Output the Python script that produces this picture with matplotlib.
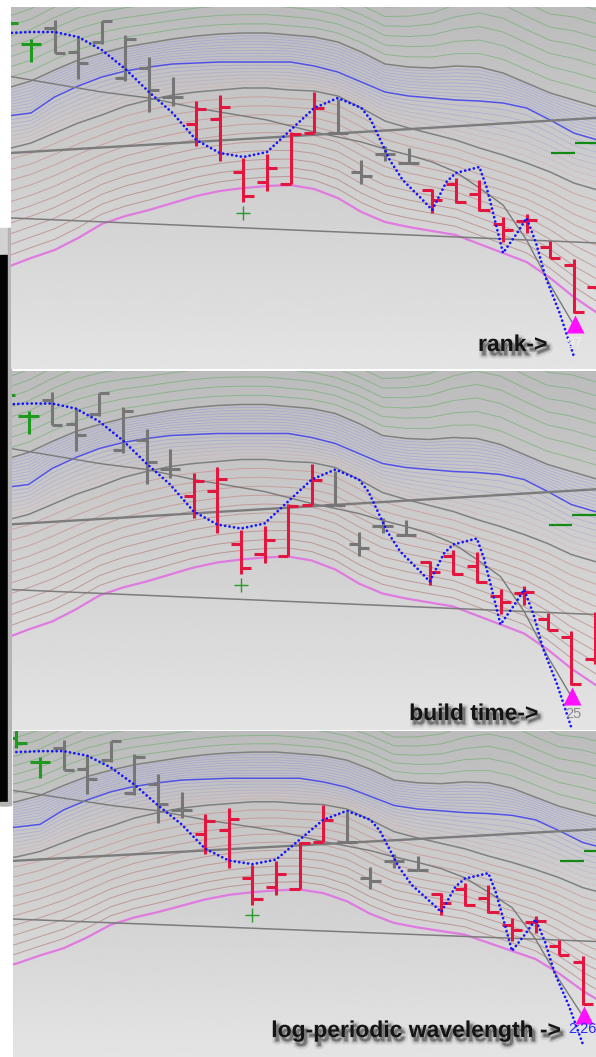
import numpy as np
import matplotlib
matplotlib.use('Agg')
import matplotlib.pyplot as plt
import matplotlib.patheffects as pe
from matplotlib.patches import Rectangle

# ---- price bars (bar index, open, high, low, close); price axis runs downwards like the screen
barIdx   = list(range(-1, 25))
barOpen  = [18, 44, 28, 52, 42, 78, 68, 97, 124, 119, 172, 182, 184, 133, 133, 172, 154, 163, 190, 184, 194, 224, 221, 247, 265, 287]
barHigh  = [8, 39, 20, 36, 21, 35, 57, 77, 101, 95, 158, 154, 132, 92, 99, 160, 146, 148, 189, 178, 180, 217, 214, 241, 259, 240]
barLow   = [29, 62, 53, 79, 44, 81, 112, 106, 146, 161, 202, 191, 184, 133, 133, 184, 161, 164, 213, 203, 211, 242, 233, 258, 313, 292]
barClose = [23, 44, 53, 63, 21, 39, 90, 97, 109, 107, 196, 168, 134, 108, 133, 176, 154, 163, 200, 202, 210, 230, 220, 258, 312, 250]
barKind  = ['g', 'g', 'k', 'k', 'k', 'k', 'k', 'k', 'r', 'r', 'r', 'r', 'r', 'r', 'k', 'k', 'k', 'k',
            'r', 'r', 'r', 'r', 'r', 'r', 'r', 'r']

# ---- envelope lines read at each bar (index -2 .. 25)
envIdx     = list(range(-2, 26))
envCenter  = [119, 116, 113, 97, 86, 77, 71, 67, 64, 63, 62, 62, 62, 62, 66, 72, 82, 92, 96, 98, 100, 101, 103, 108, 120, 133, 140, 145]
envUpper   = [92, 88, 81, 70, 60, 53, 47, 43, 39, 36, 34, 33, 33, 35, 37, 42, 52, 64, 67, 68, 66, 67, 73, 83, 93, 100, 107, 112]
envLower   = [152, 149, 143, 133, 123, 115, 106, 100, 95, 92, 90, 88, 88, 90, 91, 96, 108, 121, 128, 134, 140, 148, 155, 163, 172, 183, 190, 196]
envMagenta = [273, 267, 258, 250, 238, 224, 216, 210, 203, 196, 191, 188, 186, 185, 189, 198, 212, 222, 227, 231, 235, 244, 253, 262, 278, 297, 313, 325]

# slow average, ends at the signal bar
slowIdx  = list(range(-2, 24))
slowLine = [73, 76, 80, 84, 88, 92, 95, 98, 103, 108, 112, 116, 120, 126, 132, 137, 142, 149, 155, 162, 172, 188, 205, 240, 285, 325]

# straight trend lines (end points)
trendX = [-2, 25]
trendA = [154.6, 116.4]
trendC = [216.8, 244.0]

# dotted projection
projX = [-1, 0, 1, 2, 3, 4, 5, 6, 7, 8, 9, 10, 11, 12, 13, 14, 14.4, 14.8, 15.2, 15.75, 16.6, 17, 17.6, 18,
         19, 19.3, 19.55, 20, 20.6, 21, 21.4, 21.8, 22.4, 23]
projY = [33, 32, 32, 37, 50, 69, 92, 113, 140, 153, 157, 152, 130, 108, 98, 108, 120, 140, 160, 180, 200, 210, 182, 173,
         167, 187, 210, 253, 233, 218, 243, 277, 313, 356]

# markers
triX, triY = [23.05], [324]
plusX, plusY = [9], [213]
levelY = [153, 143]
levelStart = [22.05, 23.05]
levelEnd = [23.05, 24.05]

# panels: left px, top px, bottom px, px of bar 0, px of level 44, vertical scale
panelBox = [(11, 7, 369, 31.0, 44.0, 1.0),
            (12, 371, 730, 28.5, 415.5, 1.0),
            (13, 731, 1057, 40.0, 762.0, 0.904)]
panelLabel = ['rank->', 'build time->', 'log-periodic wavelength ->']
labelRight = [547, 538, 560]
labelBase = [351, 720, 1037]
smallText = ['97', '25', '2:26']
smallColor = ['#f0f0f8', '#8c8c8c', '#2828ff']
smallPos = [(23.05, 343, 'center'), (23.07, 342.5, 'center'), (22.37, 339.4, 'left')]

W, H = 596, 1057
BARW = 23.6
kindColor = {'g': '#1f9a1f', 'k': '#767676', 'r': '#e3163f'}

fig = plt.figure(figsize=(W / 100, H / 100), dpi=100, facecolor='white')

# background: window pieces behind the screenshots
bg = fig.add_axes([0, 0, 1, 1])
bg.set_xlim(0, W)
bg.set_ylim(H, 0)
bg.axis('off')
bg.add_patch(Rectangle((0, 228), 11, 27, color='#d2d2d2'))
bg.add_patch(Rectangle((0, 255), 8, 550, color='#030303'))
bg.add_patch(Rectangle((8, 228), 3, 577, color='#b4b4b4'))
bg.add_patch(Rectangle((0, 802), 11, 3, color='#b4b4b4'))
bg.set_zorder(0)

eX = np.array(envIdx, dtype=float)
cen = np.array(envCenter, dtype=float)
up = np.array(envUpper, dtype=float)
lo = np.array(envLower, dtype=float)
mg = np.array(envMagenta, dtype=float)
step = (lo - up) / 6.0

grad = np.linspace(0.895, 0.735, 256).reshape(-1, 1)

for p, (L, T, B, x0, yref, ys) in enumerate(panelBox):
    ax = fig.add_axes([L / W, (H - B) / H, (W - L) / W, (B - T) / H])
    ax.set_zorder(1)
    ax.imshow(grad, extent=[0, 1, 0, 1], transform=ax.transAxes, cmap='gray', vmin=0, vmax=1,
              aspect='auto', origin='lower', zorder=0, interpolation='bicubic')

    # green lines above the upper grey line
    for k in range(1, 12):
        ax.plot(eX, up - k * step, color='#4fa84f', lw=0.7, alpha=0.45, zorder=1)
    # dense blue lines between upper grey and centre
    for f in np.linspace(0, 1, 11)[1:-1]:
        ax.plot(eX, up + f * (cen - up), color='#6a6aff', lw=0.55, alpha=0.3, zorder=1)
    # lines from centre down to lower grey, blue fading to pink
    for j, f in enumerate(np.linspace(0, 1, 9)[1:-1]):
        col = (0.4 + 0.5 * j / 6, 0.4 + 0.15 * j / 6, 1.0 - 0.4 * j / 6)
        ax.plot(eX, cen + f * (lo - cen), color=col, lw=0.55, alpha=0.3, zorder=1)
    # red/brown lines between lower grey and magenta
    for k in range(1, 11):
        t = k / 11
        col = (0.82 - 0.2 * t, 0.5 - 0.15 * t, 0.48 - 0.15 * t)
        ax.plot(eX, lo + t * (mg - lo), color=col, lw=0.7, alpha=0.5, zorder=1)

    ax.plot(eX, cen, color='#3434f4', lw=1.1, alpha=0.8, zorder=1.5)
    ax.plot(eX, up, color='#808080', lw=1.1, zorder=1.6)
    ax.plot(eX, lo, color='#808080', lw=1.1, zorder=1.6)
    ax.plot(eX, mg, color='#e07ae0', lw=1.6, zorder=1.6)
    ax.plot(slowIdx, slowLine, color='#7a7a7a', lw=1.0, zorder=1.6)
    ax.plot(trendX, trendA, color='#7c7c7c', lw=1.7, zorder=1.7)
    ax.plot(trendX, trendC, color='#7c7c7c', lw=1.1, zorder=1.7)

    # OHLC bars
    for i, o, h, l, c, kd in zip(barIdx, barOpen, barHigh, barLow, barClose, barKind):
        col = kindColor[kd]
        ax.vlines(i, h, l, color=col, lw=2.2, zorder=3)
        ax.hlines(o, i - 0.43, i, color=col, lw=2.2, zorder=3)
        ax.hlines(c, i, i + 0.43, color=col, lw=2.2, zorder=3)

    ax.hlines(levelY, levelStart, levelEnd, color='#138a13', lw=1.6, zorder=3)
    ax.plot(projX, projY, color='#1414ff', lw=2.0, linestyle=(0, (0.01, 1.6)),
            dash_capstyle='round', zorder=4)
    ax.plot(triX, triY, marker='^', ms=13, color='#ff10ff', mec='none', ls='none', zorder=5)
    ax.plot(plusX, plusY, marker='+', ms=10, mew=1.0, color='#2a9a2a', ls='none', zorder=5)

    sx, sy, ha = smallPos[p]
    ax.text(sx, sy, smallText[p], color=smallColor[p], fontsize=10.5, ha=ha, va='center',
            family='Liberation Sans', zorder=6)

    ax.set_xlim((L - x0) / BARW, (W - x0) / BARW)
    ax.set_ylim(44 + (B - yref) / ys, 44 + (T - yref) / ys)
    ax.set_xticks([])
    ax.set_yticks([])
    for s in ax.spines.values():
        s.set_visible(False)

# labels with a soft drop shadow, on a top overlay
shadow = [pe.Stroke(linewidth=5, foreground='#555555', alpha=0.12, offset=(2, -3)),
          pe.Stroke(linewidth=2, foreground='#444444', alpha=0.3, offset=(2, -3)),
          pe.Normal()]
top = fig.add_axes([0, 0, 1, 1])
top.set_xlim(0, W)
top.set_ylim(H, 0)
top.axis('off')
top.set_zorder(20)
for txt, xr, yb in zip(panelLabel, labelRight, labelBase):
    top.text(xr, yb, txt, ha='right', va='baseline', fontsize=16.5, fontweight='bold',
             family='Liberation Sans', color='#141414', path_effects=shadow)

fig.savefig('out.png', dpi=100, facecolor='white')
